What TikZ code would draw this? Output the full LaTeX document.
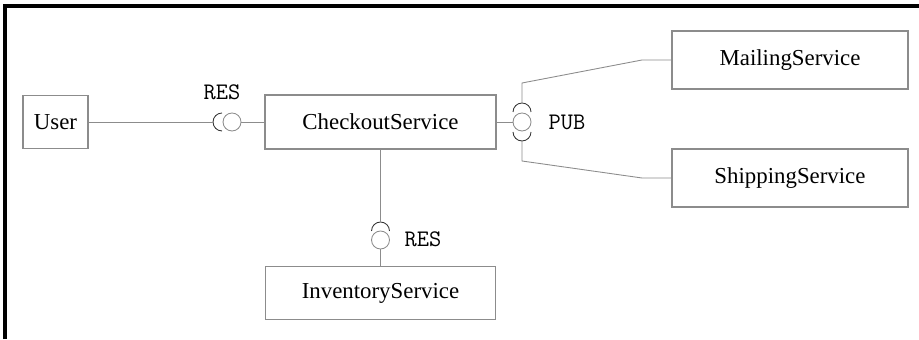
\documentclass[tikz,border=0pt]{standalone}
\usepackage{fontspec}
\setmainfont{Liberation Serif}
\usetikzlibrary{positioning}
\definecolor{linegray}{HTML}{8C8C8C}
\tikzset{
    svc/.style={rectangle, draw=linegray, line width=0.6pt, inner sep=0pt, font=\fontsize{13}{15}\selectfont},
    ball/.style={circle, draw=linegray, line width=0.5pt, minimum size=0.36cm, inner sep=0pt},
    wire/.style={linegray, line width=0.5pt},
    sock/.style={black!80, line width=0.5pt},
    port/.style={font=\ttfamily\fontsize{13.5}{15}\selectfont},
}

\begin{document}
\begin{tikzpicture}
        \useasboundingbox (0,0) rectangle (18.38,6.78);
        % Frame
        \draw[line width=2pt] (0.1,0) -- (0.1,6.66) -- (18.38,6.66);
        % Nodes
        \node (user) at (1.11,4.34) [svc, minimum width=1.3cm, minimum height=1.06cm] {User};
        \node (checkout) at (7.61,4.34) [svc, minimum width=4.62cm, minimum height=1.08cm] {CheckoutService};
        \node (mailing) at (15.8,5.58) [svc, minimum width=4.72cm, minimum height=1.16cm] {MailingService};
        \node (shipping) at (15.8,3.22) [svc, minimum width=4.72cm, minimum height=1.16cm] {ShippingService};
        \node (inventory) at (7.61,0.92) [svc, minimum width=4.6cm, minimum height=1.06cm] {InventoryService};
        % Ports
        \node (b1) at (4.64,4.34) [ball] {};
        \node (b2) at (7.61,1.98) [ball] {};
        \node (b3) at (10.44,4.34) [ball] {};
        \node (l1) at (4.44,4.94) [port] {RES};
        \node (l2) at (8.46,2.0) [port] {RES};
        \node (l3) at (11.34,4.34) [port] {PUB};
        % Sockets
        \draw[sock] (4.44,4.52) arc (90:270:0.18);
        \draw[sock] (7.79,2.16) arc (0:180:0.18);
        \draw[sock] (10.62,4.54) arc (0:180:0.18);
        \draw[sock] (10.26,4.14) arc (180:360:0.18);
        \coordinate (s1) at (4.26,4.34);
        \coordinate (s2) at (7.61,2.34);
        \coordinate (s3) at (10.44,4.72);
        \coordinate (s4) at (10.44,3.96);
        \coordinate (k1) at (10.44,5.12);
        \coordinate (k2) at (12.84,5.58);
        \coordinate (k3) at (10.44,3.56);
        \coordinate (k4) at (12.84,3.22);
        % Edges
        \draw[wire] (user) -- (s1);
        \draw[wire] (b1) -- (checkout);
        \draw[wire] (checkout) -- (s2);
        \draw[wire] (b2) -- (inventory);
        \draw[wire] (checkout) -- (b3);
        \draw[wire] (s3) -- (k1) -- (k2) -- (mailing);
        \draw[wire] (s4) -- (k3) -- (k4) -- (shipping);
    \end{tikzpicture}
\end{document}
